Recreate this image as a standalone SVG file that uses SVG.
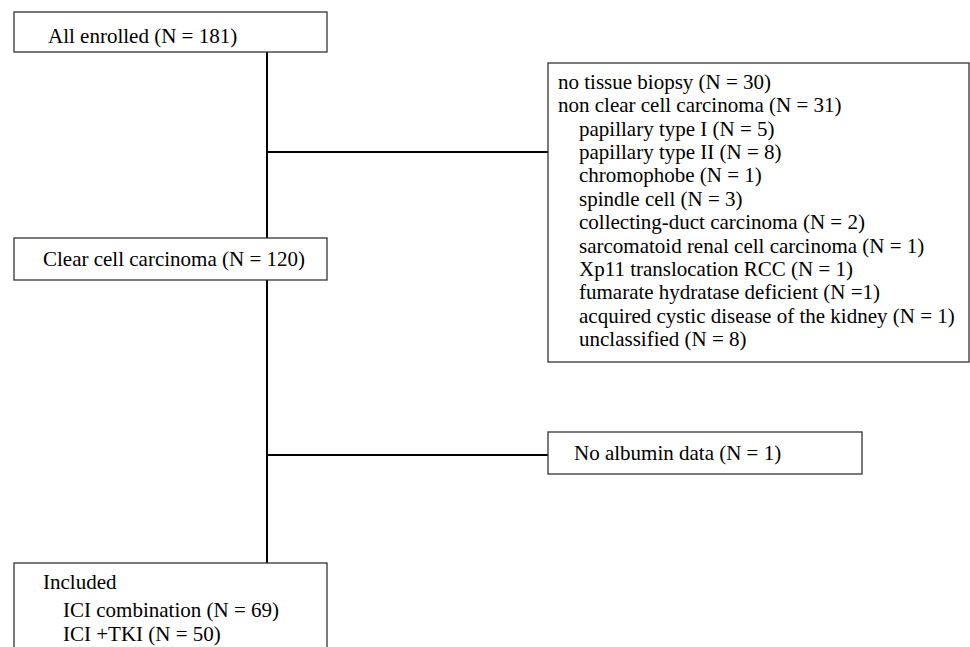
<svg xmlns="http://www.w3.org/2000/svg" width="970" height="647" viewBox="0 0 970 647">
<style>
.box{fill:#fff;stroke:#333;stroke-width:1.3}
.t{font-family:"Liberation Serif","Times New Roman",serif;font-size:21px;fill:#000}
.c{stroke:#000;stroke-width:2;fill:none}
</style>
<rect width="970" height="647" fill="#fff"/>
<g id="connectors">
<line class="c" x1="267" y1="52" x2="267" y2="238"/>
<line class="c" x1="267" y1="280" x2="267" y2="563"/>
<line class="c" x1="267" y1="152" x2="548" y2="152"/>
<line class="c" x1="267" y1="455" x2="548" y2="455"/>
</g>
<g id="enrolled">
<rect class="box" x="14" y="12" width="313" height="40"/>
<text class="t" x="48" y="43">All enrolled (N = 181)</text>
</g>
<g id="clearcell">
<rect class="box" x="14" y="238" width="313" height="42"/>
<text class="t" x="43" y="266">Clear cell carcinoma (N = 120)</text>
</g>
<g id="excluded">
<rect class="box" x="548" y="63" width="421" height="299"/>
<text class="t" x="558" y="89">no tissue biopsy (N = 30)</text>
<text class="t" x="558" y="112">non clear cell carcinoma (N = 31)</text>
<text class="t" x="579" y="136">papillary type I (N = 5)</text>
<text class="t" x="579" y="159">papillary type II (N = 8)</text>
<text class="t" x="579" y="182">chromophobe (N = 1)</text>
<text class="t" x="579" y="206">spindle cell (N = 3)</text>
<text class="t" x="579" y="229">collecting-duct carcinoma (N = 2)</text>
<text class="t" x="579" y="253">sarcomatoid renal cell carcinoma (N = 1)</text>
<text class="t" x="579" y="276">Xp11 translocation RCC (N = 1)</text>
<text class="t" x="579" y="299">fumarate hydratase deficient (N =1)</text>
<text class="t" x="579" y="323">acquired cystic disease of the kidney (N = 1)</text>
<text class="t" x="579" y="346">unclassified (N = 8)</text>
</g>
<g id="albumin">
<rect class="box" x="548" y="432" width="314" height="42"/>
<text class="t" x="574" y="460">No albumin data (N = 1)</text>
</g>
<g id="included">
<rect class="box" x="14" y="563" width="313" height="90"/>
<text class="t" x="43" y="589">Included</text>
<text class="t" x="63" y="617">ICI combination (N = 69)</text>
<text class="t" x="63" y="641">ICI +TKI (N = 50)</text>
</g>
</svg>
